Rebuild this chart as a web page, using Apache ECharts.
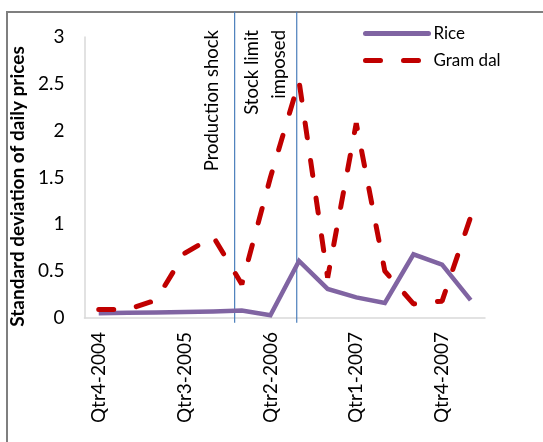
<!DOCTYPE html>
<html>
<head>
<meta charset="utf-8">
<script src="https://cdn.jsdelivr.net/npm/echarts@6/dist/echarts.min.js"></script>
<style>
html,body{margin:0;padding:0;background:#fff;}
#c{width:543px;height:442px;}
</style>
</head>
<body>
<div id="c"></div>
<script>
var categories = ['Qtr4-2004','Qtr1-2005','Qtr2-2005','Qtr3-2005','Qtr4-2005','Qtr1-2006','Qtr2-2006','Qtr3-2006','Qtr4-2006','Qtr1-2007','Qtr2-2007','Qtr3-2007','Qtr4-2007','Qtr1-2008'];
var rice = [0.05, 0.055, 0.06, 0.065, 0.07, 0.08, 0.03, 0.61, 0.31, 0.22, 0.16, 0.68, 0.57, 0.19];
var gramDal = [0.09, 0.09, 0.19, 0.69, 0.87, 0.36, 1.5, 2.53, 0.43, 2.08, 0.5, 0.15, 0.18, 1.08];
// event markers, in category-index units
var eventPositions = [4.75, 6.92];
var yTicks = [0, 0.5, 1, 1.5, 2, 2.5, 3];

var chart = echarts.init(document.getElementById('c'), null, {renderer: 'canvas'});
var FONT = 'Lato';
var FS = 19;

var eventSeries = eventPositions.map(function (p, i) {
  return {
    type: 'line',
    name: 'event' + i,
    xAxisIndex: 1,
    yAxisIndex: 0,
    data: [[p, 3.27], [p, -0.05]],
    symbol: 'none',
    clip: false,
    silent: true,
    lineStyle: {color: '#4a7ebb', width: 1.2},
    z: 1
  };
});

chart.setOption({
  animation: false,
  backgroundColor: '#fff',
  grid: {left: 82, right: 58, top: 37, bottom: 124, containLabel: false},
  legend: {
    data: ['Rice', 'Gram dal'],
    orient: 'vertical',
    left: 358,
    top: 20,
    itemWidth: 63,
    itemHeight: 14,
    itemGap: 10,
    itemStyle: {opacity: 0},
    lineStyle: {width: 5, cap: 'round'},
    textStyle: {fontFamily: FONT, fontSize: 17, color: '#000'}
  },
  xAxis: [{
    type: 'category',
    data: categories,
    boundaryGap: true,
    axisLine: {lineStyle: {color: '#d9d9d9', width: 1.5}},
    axisTick: {show: false},
    axisLabel: {interval: 2, rotate: 90, fontFamily: FONT, fontSize: FS, color: '#000', margin: 14}
  }, {
    type: 'value',
    min: -0.5,
    max: categories.length - 0.5,
    show: false
  }],
  yAxis: {
    type: 'value',
    min: yTicks[0],
    max: yTicks[yTicks.length - 1],
    interval: 0.5,
    name: 'Standard deviation of daily prices',
    nameLocation: 'middle',
    nameGap: 57,
    nameTextStyle: {fontFamily: FONT, fontSize: FS, fontWeight: 'bold', color: '#000', padding: [0, 0, 0, -18]},
    axisLine: {show: true, onZero: false, lineStyle: {color: '#d9d9d9', width: 1.5}},
    axisTick: {show: false},
    splitLine: {show: false},
    axisLabel: {fontFamily: FONT, fontSize: FS, color: '#000', margin: 20}
  },
  graphic: [
    {type: 'rect', shape: {x: 7, y: 12, width: 600, height: 500}, style: {fill: 'none', stroke: '#7f7f7f', lineWidth: 2}, silent: true, z: -1},
    {type: 'text', x: 212, y: 30, rotation: Math.PI / 2, style: {text: 'Production shock', font: '18.5px Lato', fill: '#000', textAlign: 'right', textVerticalAlign: 'middle'}},
    {type: 'text', x: 252, y: 30, rotation: Math.PI / 2, style: {text: 'Stock limit', font: '18.5px Lato', fill: '#000', textAlign: 'right', textVerticalAlign: 'middle'}},
    {type: 'text', x: 279, y: 30, rotation: Math.PI / 2, style: {text: 'imposed', font: '18.5px Lato', fill: '#000', textAlign: 'right', textVerticalAlign: 'middle'}}
  ],
  series: [
    {
      name: 'Rice',
      type: 'line',
      data: rice,
      symbol: 'none',
      lineStyle: {color: '#8064a2', width: 4.5, join: 'miter'},
      itemStyle: {color: '#8064a2'},
      z: 3
    },
    {
      name: 'Gram dal',
      type: 'line',
      data: gramDal,
      symbol: 'none',
      lineStyle: {color: '#c00000', width: 5, type: [15, 23], cap: 'round'},
      itemStyle: {color: '#c00000'},
      z: 4
    }
  ].concat(eventSeries)
});
</script>
</body>
</html>
